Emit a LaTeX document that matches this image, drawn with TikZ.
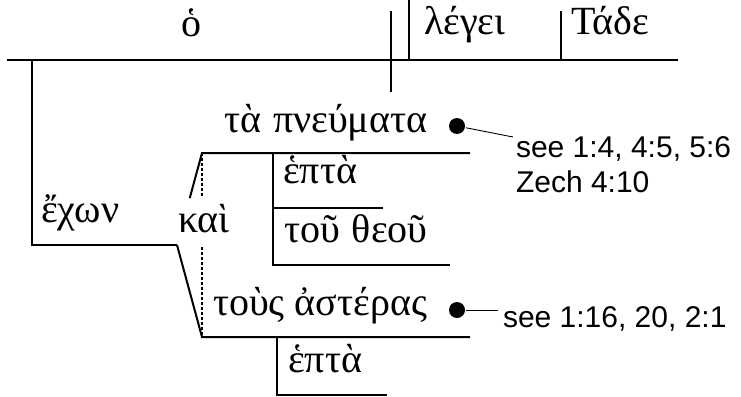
\documentclass[tikz,border=0pt]{standalone}
\usepackage{fontspec}
\setmainfont{Liberation Serif}
\newfontfamily\sansf{Liberation Sans}
\usetikzlibrary{calc}
\begin{document}
\begin{tikzpicture}[x=1pt,y=-1pt,line width=2pt,
  gk/.style={font=\fontsize{40}{44}\selectfont, inner sep=0pt, anchor=base west},
  en/.style={font=\sansf\fontsize{30}{34}\selectfont, inner sep=0pt, anchor=base west},
  thinline/.style={line width=0.9pt},
  dotline/.style={line width=2.5pt, dash pattern=on 3pt off 2pt},
  blob/.style={circle, fill=black, inner sep=0pt, minimum size=16pt}]
\useasboundingbox (0,0) rectangle (741,396);
% main baseline
\coordinate (bl) at (7,60);
\coordinate (br) at (678,60);
\draw (bl) -- (br);
\coordinate (v1t) at (391,11); \coordinate (v1b) at (391,92);
\coordinate (v2t) at (409,0);  \coordinate (v2b) at (409,60);
\coordinate (v3t) at (561,11); \coordinate (v3b) at (561,60);
\draw (v1t) -- (v1b);
\draw (v2t) -- (v2b);
\draw (v3t) -- (v3b);
\node[gk] (subj) at (180,37) {ὁ};
\node[gk] (verb) at (423,35) {λέγει};
\node[gk] (obj) at (570,35) {Τάδε};
% participle
\coordinate (p0) at (32,60);
\coordinate (p1) at (32,245);
\coordinate (p2) at (177,245);
\draw (p0) -- (p1) -- (p2);
\node[gk] (echon) at (40,222) {ἔχων};
% conjunction
\coordinate (u0) at (202,153);
\coordinate (u1) at (470,153);
\coordinate (l0) at (202,337);
\coordinate (l1) at (470,337);
\coordinate (us) at ($(p2)!0.51!(u0)$);
\draw (us) -- (u0) -- (u1);
\draw (p2) -- (l0) -- (l1);
\coordinate (d1) at (202,198);
\coordinate (d2) at (202,247);
\draw[dotline] (u0) -- (d1);
\draw[dotline] (d2) -- (l0);
\node[gk] (kai) at (177,232) {καὶ};
\node[gk] (pn) at (223,132) {τὰ\hspace{0.3em}πνεύματα};
\node[gk] (ast) at (212,315) {τοὺς\hspace{0.25em}ἀστέρας};
% modifiers upper
\coordinate (m0) at (273,153);
\coordinate (m1) at (273,265);
\coordinate (m2) at (450,265);
\coordinate (m3) at (273,208);
\coordinate (m4) at (383,208);
\draw (m0) -- (m1) -- (m2);
\draw (m3) -- (m4);
\node[gk] (hepta1) at (282,183) {ἑπτὰ};
\node[gk] (theou) at (283,242) {τοῦ\hspace{0.3em}θεοῦ};
% modifier lower
\coordinate (n0) at (277,337);
\coordinate (n1) at (277,395);
\coordinate (n2) at (387,395);
\draw (n0) -- (n1) -- (n2);
\node[gk] (hepta2) at (287,372) {ἑπτὰ};
% references
\node[blob] (dot1) at (457,126) {};
\node[blob] (dot2) at (457,310) {};
\node[en] (ref1a) at (515,157) {see 1:4, 4:5, 5:6};
\node[en] (ref1b) at (515,192) {Zech 4:10};
\node[en] (ref2) at (502,327) {see 1:16, 20, 2:1};
\coordinate (r1) at (513,137);
\coordinate (r2) at (498,310);
\draw[thinline] (dot1) -- (r1);
\draw[thinline] (dot2) -- (r2);
\end{tikzpicture}
\end{document}
